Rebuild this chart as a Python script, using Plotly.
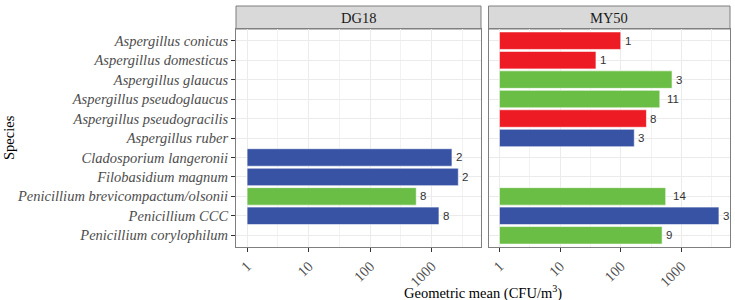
import math
import plotly.graph_objects as go
from plotly.subplots import make_subplots

# ---- data ----
species = [
    "Aspergillus conicus",
    "Aspergillus domesticus",
    "Aspergillus glaucus",
    "Aspergillus pseudoglaucus",
    "Aspergillus pseudogracilis",
    "Aspergillus ruber",
    "Cladosporium langeronii",
    "Filobasidium magnum",
    "Penicillium brevicompactum/olsonii",
    "Penicillium CCC",
    "Penicillium corylophilum",
]
panels = ["DG18", "MY50"]

dg18_species = ["Cladosporium langeronii", "Filobasidium magnum",
                "Penicillium brevicompactum/olsonii", "Penicillium CCC"]
dg18_means = [2130, 2700, 560, 1310]
dg18_n = [2, 2, 8, 8]
dg18_group = ["blue", "blue", "green", "blue"]

my50_species = ["Aspergillus conicus", "Aspergillus domesticus", "Aspergillus glaucus",
                "Aspergillus pseudoglaucus", "Aspergillus pseudogracilis", "Aspergillus ruber",
                "Penicillium brevicompactum/olsonii", "Penicillium CCC",
                "Penicillium corylophilum"]
my50_means = [100, 39, 700, 440, 265, 167, 550, 4150, 480]
my50_n = [1, 1, 3, 11, 8, 3, 14, 3, 9]
my50_group = ["red", "red", "green", "green", "red", "blue", "green", "blue", "green"]

x_tick_labels = ["1", "10", "100", "1000"]

# ---- style ----
palette = {"blue": "#3953A4", "green": "#6ABD45", "red": "#ED1C24"}
serif = "Liberation Serif"
sans = "Liberation Sans"
W, H = 735, 300
ml, mr, mt, mb = 236, 5, 29, 53
plot_h = H - mt - mb
strip_px = 23

fig = make_subplots(rows=1, cols=2, shared_yaxes=True, horizontal_spacing=0.0152)

series = [
    (dg18_species, dg18_means, dg18_n, dg18_group),
    (my50_species, my50_means, my50_n, my50_group),
]

annotations = []
shapes = []
for i, (sp, means, ns, grp) in enumerate(series):
    col = i + 1
    logv = [math.log10(v) for v in means]
    fig.add_trace(go.Bar(
        x=logv, y=sp, orientation="h", width=0.9,
        marker=dict(color=[palette[g] for g in grp], line=dict(color="white", width=0.6)),
        showlegend=False, hoverinfo="skip",
    ), row=1, col=col)
    xr = "x" if col == 1 else "x2"
    for s, lv, n in zip(sp, logv, ns):
        t = str(n)
        annotations.append(dict(
            x=lv, y=s, xref=xr, yref="y", text=t, showarrow=False,
            xanchor="left", yanchor="middle", xshift=3 * len(t) - 1,
            font=dict(family=sans, size=11.5, color="#333333"),
        ))
    # strip
    shapes.append(dict(
        type="rect", xref=f"{xr} domain", yref="y domain",
        x0=0, x1=1, y0=1, y1=1 + strip_px / plot_h,
        fillcolor="#D9D9D9", line=dict(color="#7F7F7F", width=1), layer="below",
    ))
    annotations.append(dict(
        x=0.5, y=1 + strip_px / plot_h / 2, xref=f"{xr} domain", yref="y domain",
        text=panels[i], showarrow=False, xanchor="center", yanchor="middle",
        font=dict(family=serif, size=14.5, color="#1A1A1A"),
    ))

tickvals = [math.log10(float(t)) for t in x_tick_labels]
minor_vals = [v + 0.5 for v in tickvals]
xcommon = dict(
    range=[-0.18, 3.80], tickvals=tickvals, ticktext=x_tick_labels, tickangle=-45,
    tickfont=dict(family=serif, size=14.5, color="#4D4D4D"),
    ticks="outside", ticklen=4, tickcolor="#333333", tickwidth=1,
    showgrid=True, gridcolor="#EBEBEB", gridwidth=1,
    minor=dict(tickvals=minor_vals, showgrid=True, gridcolor="#F2F2F2", gridwidth=0.6, ticks=""),
    showline=True, linecolor="#7F7F7F", linewidth=1, mirror=True, zeroline=False,
    fixedrange=True,
)
fig.update_xaxes(**xcommon)
fig.update_xaxes(domain=[0, 245 / 494], row=1, col=1)
fig.update_xaxes(domain=[252.5 / 494, 1], row=1, col=2)

fig.update_yaxes(
    categoryorder="array", categoryarray=list(reversed(species)),
    range=[-0.6, len(species) - 0.4],
    showgrid=True, gridcolor="#EBEBEB", gridwidth=1,
    showline=True, linecolor="#7F7F7F", linewidth=1, mirror=True, zeroline=False,
    fixedrange=True,
)
fig.update_yaxes(
    tickfont=dict(family=serif, size=14.5, color="#4D4D4D", style="italic"),
    ticks="outside", ticklen=4, tickcolor="#333333", tickwidth=1,
    row=1, col=1,
)
fig.update_yaxes(showticklabels=False, ticks="", row=1, col=2)

annotations.append(dict(
    x=0.5, y=-(292 - (H - mb)) / plot_h, xref="paper", yref="paper",
    text="Geometric mean (CFU/m<sup>3</sup>)", showarrow=False,
    xanchor="center", yanchor="middle",
    font=dict(family=serif, size=14.5, color="#000000"),
))
annotations.append(dict(
    x=(9 - ml) / (W - ml - mr), y=0.5, xref="paper", yref="paper",
    text="Species", showarrow=False, textangle=-90,
    xanchor="center", yanchor="middle",
    font=dict(family=serif, size=14.5, color="#000000"),
))

fig.update_layout(
    width=W, height=H, margin=dict(l=ml, r=mr, t=mt, b=mb),
    paper_bgcolor="white", plot_bgcolor="white",
    bargap=0.1, annotations=annotations, shapes=shapes,
)

fig.write_html("out.html")
